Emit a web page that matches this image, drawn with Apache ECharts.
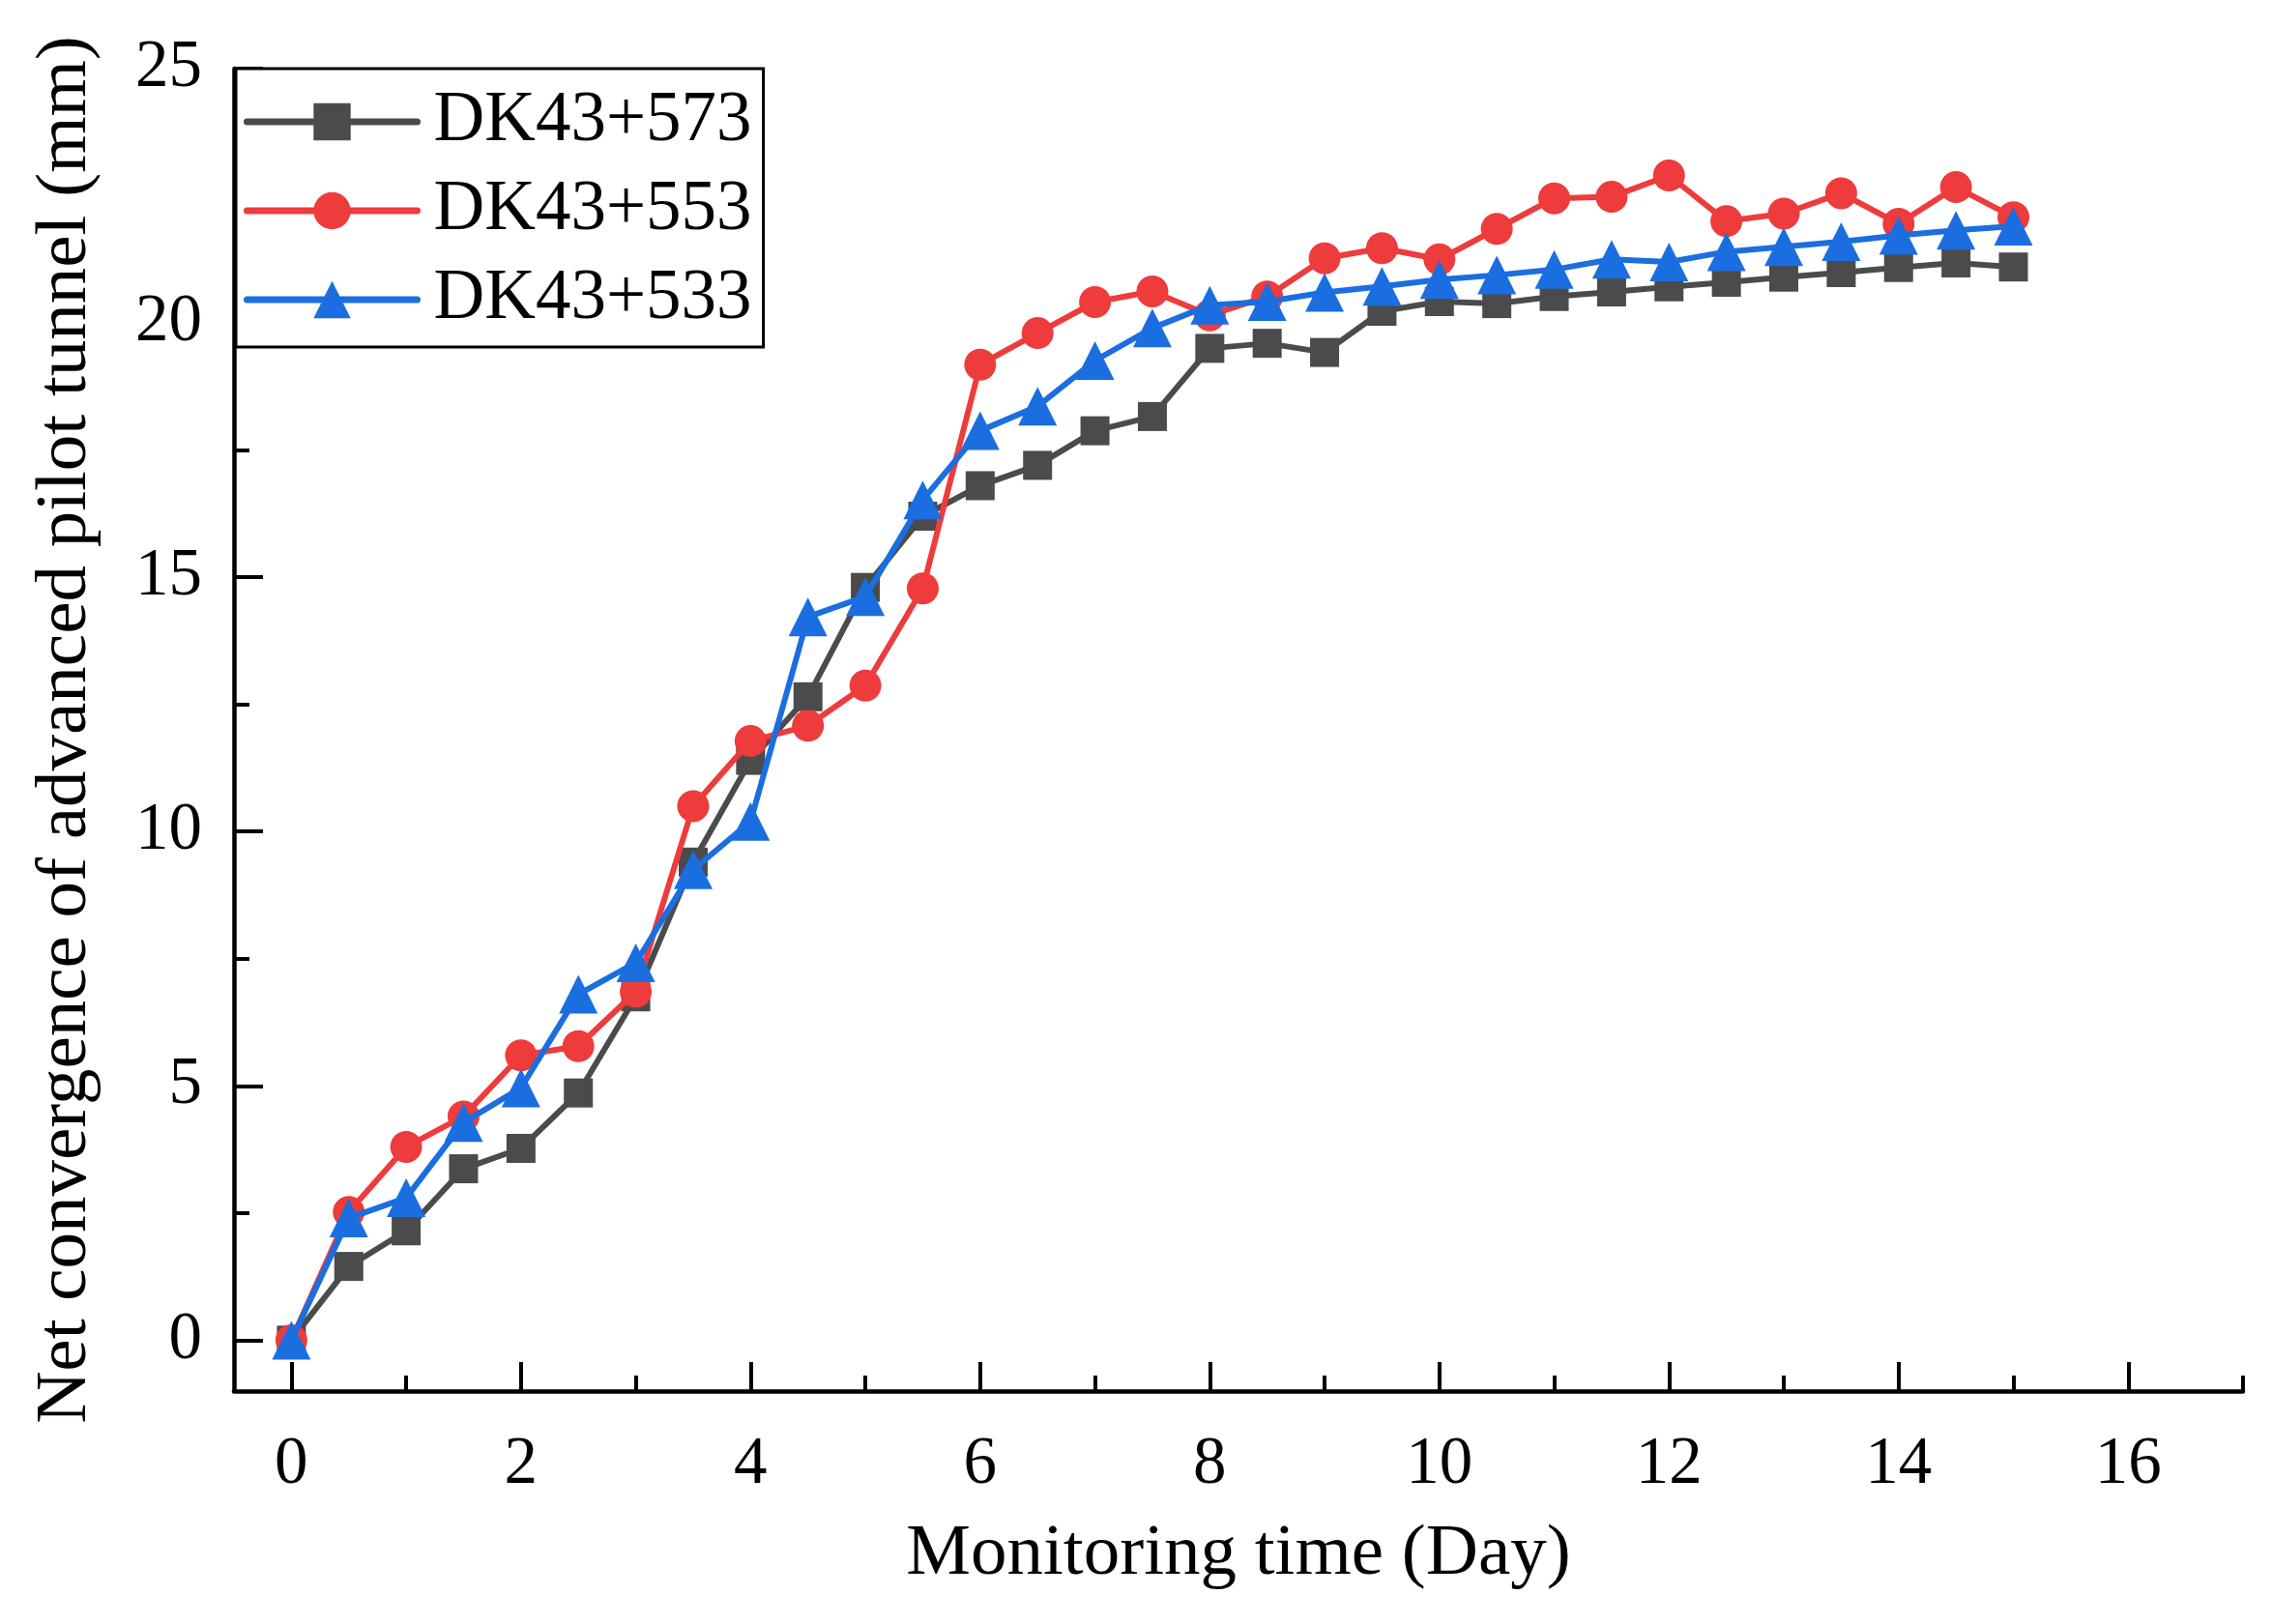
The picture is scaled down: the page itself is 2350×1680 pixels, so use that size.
<!DOCTYPE html>
<html>
<head>
<meta charset="utf-8">
<script src="https://cdn.jsdelivr.net/npm/echarts@6/dist/echarts.min.js"></script>
<style>html,body{margin:0;padding:0;background:#fff}#c{width:2350px;height:1680px}</style>
</head>
<body>
<div id="c"></div>
<script>
const days = [0,0.5,1,1.5,2,2.5,3,3.5,4,4.5,5,5.5,6,6.5,7,7.5,8,8.5,9,9.5,10,10.5,11,11.5,12,12.5,13,13.5,14,14.5,15];
const dk573 = [0,1.45,2.15,3.37,3.77,4.86,6.75,9.4,11.4,12.65,14.8,16.2,16.8,17.2,17.88,18.16,19.5,19.6,19.42,20.23,20.42,20.38,20.52,20.61,20.71,20.8,20.9,20.99,21.09,21.18,21.1];
const dk553 = [0,2.52,3.8,4.4,5.6,5.78,6.85,10.5,11.78,12.08,12.87,14.78,19.18,19.8,20.41,20.62,20.15,20.52,21.27,21.47,21.25,21.85,22.45,22.48,22.9,22.0,22.15,22.55,21.95,22.67,22.08];
const dk533 = [0,2.4,2.8,4.28,4.96,6.8,7.42,9.25,10.2,14.22,14.62,16.52,17.88,18.36,19.26,19.9,20.35,20.42,20.6,20.72,20.85,20.94,21.05,21.25,21.2,21.4,21.5,21.6,21.72,21.82,21.9];
const seriesNames = ['DK43+573','DK43+553','DK43+533'];
const xMajor = [0,2,4,6,8,10,12,14,16];
const xMinor = [1,3,5,7,9,11,13,15,17];
const yMajor = [0,5,10,15,20,25];
const yMinor = [2.5,7.5,12.5,17.5,22.5];
const xName = 'Monitoring time (Day)';
const yName = 'Net convergence of advanced pilot tunnel (mm)';

const FONT = "'Liberation Serif','Times New Roman',serif";
const colors = ['#4b4b4b','#ee3b3b','#1a6ee0'];
const symbols = ['rect','circle','triangle'];
const symSizes = [30,33,40];
const vals = [dk573, dk553, dk533];

const chart = echarts.init(document.getElementById('c'));
chart.setOption({
  backgroundColor:'#fff',
  animation:false,
  grid:{left:242,right:30,top:71,bottom:241,containLabel:false},
  legend:{
    data:seriesNames,
    orient:'vertical',
    left:244, top:71,
    padding:[16,12,10,8],
    itemWidth:176, itemHeight:48, itemGap:14,
    borderColor:'#000', borderWidth:3,
    backgroundColor:'#fff',
    lineStyle:{width:7, cap:'round'},
    textStyle:{fontFamily:FONT,fontSize:73,color:'#000',lineHeight:78,padding:[0,0,0,12]}
  },
  xAxis:[{
    type:'value', min:-0.5, max:17, position:'bottom',
    name:xName, nameLocation:'middle', nameGap:132,
    nameTextStyle:{fontFamily:FONT,fontSize:75,color:'#000'},
    axisLine:{show:true,onZero:false,lineStyle:{color:'#000',width:4.5}},
    axisTick:{show:true,inside:true,length:30,customValues:xMajor,lineStyle:{color:'#000',width:4}},
    axisLabel:{show:true,customValues:xMajor,fontFamily:FONT,fontSize:69,color:'#000',margin:42},
    splitLine:{show:false}
  },{
    type:'value', min:-0.5, max:17, position:'bottom', offset:0,
    axisLine:{show:false,onZero:false},
    axisTick:{show:true,inside:true,length:16,customValues:xMinor,lineStyle:{color:'#000',width:4}},
    axisLabel:{show:false},
    splitLine:{show:false}
  }],
  yAxis:[{
    type:'value', min:-1, max:25, position:'left',
    name:yName, nameLocation:'middle', nameGap:136,
    nameTextStyle:{fontFamily:FONT,fontSize:75,color:'#000'},
    axisLine:{show:true,onZero:false,lineStyle:{color:'#000',width:4.5}},
    axisTick:{show:true,inside:true,length:30,customValues:yMajor,lineStyle:{color:'#000',width:4}},
    axisLabel:{show:true,customValues:yMajor,fontFamily:FONT,fontSize:69,color:'#000',margin:33},
    splitLine:{show:false}
  },{
    type:'value', min:-1, max:25, position:'left', offset:0,
    axisLine:{show:false,onZero:false},
    axisTick:{show:true,inside:true,length:16,customValues:yMinor,lineStyle:{color:'#000',width:4}},
    axisLabel:{show:false},
    splitLine:{show:false}
  }],
  series: seriesNames.map((n,i)=>({
    name:n, type:'line', xAxisIndex:0, yAxisIndex:0,
    data: days.map((d,j)=>[d, vals[i][j]]),
    symbol:symbols[i], symbolSize:symSizes[i],
    lineStyle:{color:colors[i],width:6},
    itemStyle:{color:colors[i]},
    z:2+i
  }))
});
</script>
</body>
</html>
